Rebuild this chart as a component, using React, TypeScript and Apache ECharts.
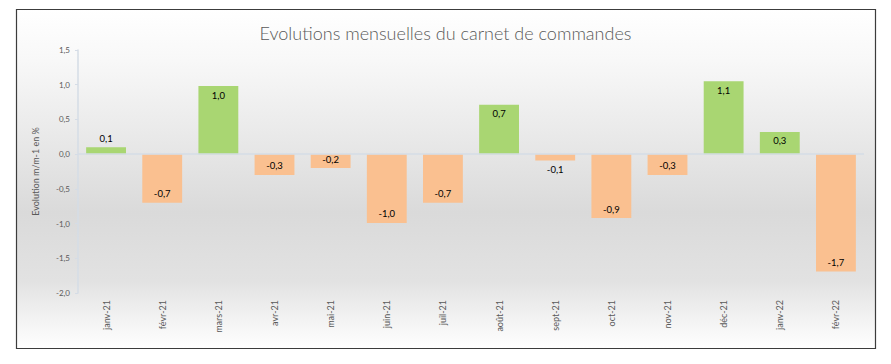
import React, { useEffect, useRef } from "react";
import * as echarts from "echarts";

const TITLE = "Evolutions mensuelles du carnet de commandes";
const Y_NAME = "Evolution m/m-1 en %";
const categories = [
  "janv-21", "févr-21", "mars-21", "avr-21", "mai-21", "juin-21", "juil-21",
  "août-21", "sept-21", "oct-21", "nov-21", "déc-21", "janv-22", "févr-22",
];
const values = [0.1, -0.7, 0.98, -0.3, -0.2, -0.99, -0.7, 0.71, -0.09, -0.92, -0.3, 1.05, 0.32, -1.69];

const GREEN = "#a9d672";
const ORANGE = "#fac090";
const FONT = "Lato, 'Open Sans', sans-serif";

const fmt = (v: number) => v.toFixed(1).replace(".", ",");

export default function App() {
  const ref = useRef<HTMLDivElement>(null);
  useEffect(() => {
    if (!ref.current) return;
    const chart = echarts.init(ref.current, undefined, { renderer: "svg" });
    const data = values.map((v) => {
      let position: string;
      if (v >= 0) position = v < 0.15 ? "top" : "insideTop";
      else position = v > -0.15 ? "bottom" : "insideBottom";
      return {
        value: v,
        itemStyle: { color: v >= 0 ? GREEN : ORANGE },
        label: { position, distance: 4 },
      };
    });
    chart.setOption({
      animation: false,
      graphic: [
        {
          type: "rect",
          z: -10,
          silent: true,
          shape: { x: 16.5, y: 9.5, width: 859, height: 339 },
          style: {
            fill: new echarts.graphic.LinearGradient(0, 0, 0, 1, [
              { offset: 0, color: "#ffffff" },
              { offset: 0.15, color: "#f8f8f8" },
              { offset: 0.6, color: "#dadada" },
              { offset: 0.8, color: "#e2e2e2" },
              { offset: 1, color: "#ffffff" },
            ]),
            stroke: "#3c3c3c",
            lineWidth: 1.2,
          },
        },
      ],
      title: {
        text: TITLE,
        left: "center",
        top: 19,
        textStyle: {
          fontFamily: FONT,
          fontSize: 18,
          fontWeight: 300,
          color: "#595959",
        },
      },
      grid: { left: 78, right: 27, top: 50, bottom: 71, containLabel: false },
      xAxis: {
        type: "category",
        data: categories,
        axisLine: { show: false, onZero: false },
        axisTick: { show: false },
        axisLabel: {
          rotate: 90,
          margin: 7,
          fontSize: 9,
          color: "#595959",
          fontFamily: FONT,
        },
      },
      yAxis: {
        type: "value",
        min: -2,
        max: 1.5,
        interval: 0.5,
        name: Y_NAME,
        nameLocation: "middle",
        nameGap: 38,
        nameTextStyle: { fontSize: 9, color: "#595959", fontFamily: FONT },
        axisLine: { show: true, lineStyle: { color: "#d5dce6", width: 1.5 } },
        axisTick: { show: true, length: 3, lineStyle: { color: "#d5dce6" } },
        splitLine: { show: false },
        axisLabel: {
          formatter: (v: number) => fmt(v),
          fontSize: 8,
          color: "#595959",
          margin: 8,
          fontFamily: FONT,
        },
      },
      series: [
        {
          type: "bar",
          data,
          barCategoryGap: "29%",
          label: {
            show: true,
            fontSize: 9.5,
            color: "#000000",
            fontFamily: FONT,
            formatter: (p: any) => fmt(p.value),
          },
          markLine: {
            silent: true,
            symbol: "none",
            label: { show: false },
            lineStyle: { color: "#d5dce6", width: 1.5, type: "solid" },
            data: [{ yAxis: 0 }],
          },
        },
      ],
    });
    return () => chart.dispose();
  }, []);
  return (
    <div
      ref={ref}
      style={{ position: "absolute", left: 0, top: 0, width: 891, height: 364 }}
    />
  );
}
